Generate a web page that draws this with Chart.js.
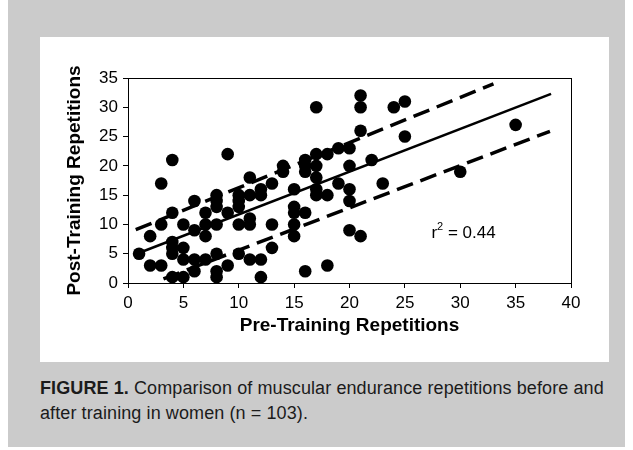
<!DOCTYPE html>
<html>
<head>
<meta charset="utf-8">
<script src="https://cdn.jsdelivr.net/npm/chart.js@4.4.0/dist/chart.umd.min.js"></script>
<style>
  body { margin: 0; background: #fff; width: 633px; height: 450px; position: relative; overflow: hidden; font-family: "Liberation Sans", Arial, sans-serif; }
  #frame { position: absolute; left: 8px; top: 0; width: 617px; height: 447px; background: #cbcbcb; }
  #panel { position: absolute; left: 40px; top: 37px; width: 569px; height: 325px; background: #fff; }
  #caption { position: absolute; left: 40px; top: 376px; font-size: 18px; line-height: 25px; color: #1b1b1b; white-space: nowrap; letter-spacing: 0.1px; }
</style>
</head>
<body>
<div id="frame"></div>
<div id="panel"><canvas id="chart" width="569" height="325"></canvas></div>
<div id="caption"><b>FIGURE 1.</b> Comparison of muscular endurance repetitions before and<br>after training in women (n = 103).</div>
<script>
// pre / post training repetitions
const preReps = [1,2,2,3,3,3,4,4,4,4,4,4,5,5,5,5,6,6,6,6,7,7,7,7,8,8,8,8,8,8,8,9,9,9,10,10,10,10,10,11,11,11,11,11,12,12,12,12,13,13,13,14,14,15,15,15,15,15,16,16,16,16,16,17,17,17,17,17,17,18,18,18,19,19,20,20,20,20,20,21,21,21,21,22,23,24,25,25,30,35];
const postReps = [5,8,3,3,10,17,21,12,7,6,5,1,10,6,4,1,14,9,4,2,12,10,8,4,15,14,13,10,5,2,1,22,12,3,15,14,13,10,5,18,15,11,10,4,16,15,4,1,17,10,6,20,19,16,13,12,10,8,21,20,19,12,2,30,22,20,18,16,15,22,15,3,23,17,23,20,16,14,9,32,30,26,8,21,17,30,31,25,19,27];

// regression line and the two dashed bands (end points)
const fitX = [0.8, 38.2];
const fitY = [5.0, 32.3];
const upperX = [0.7, 33.0];
const upperY = [9.1, 34.0];
const lowerX = [3.2, 38.1];
const lowerY = [0.7, 25.9];

const xTicks = [0, 5, 10, 15, 20, 25, 30, 35, 40];
const yTicks = [0, 5, 10, 15, 20, 25, 30, 35];
const rSquared = "0.44";

function pairs(xs, ys) {
  return xs.map((x, i) => ({ x: x, y: ys[i] }));
}

Chart.defaults.font.family = '"Liberation Sans", Arial, sans-serif';
Chart.defaults.color = "#000";

const frame = {
  id: "frame",
  afterDraw(chart) {
    const a = chart.chartArea;
    const ctx = chart.ctx;
    ctx.save();
    ctx.strokeStyle = "#000";
    ctx.lineWidth = 1;
    ctx.strokeRect(a.left + 0.5, a.top + 0.5, a.right - a.left, a.bottom - a.top);
    // r^2 note
    const x = chart.scales.x.getPixelForValue(27.4);
    const y = chart.scales.y.getPixelForValue(8.5);
    ctx.fillStyle = "#000";
    ctx.textBaseline = "middle";
    ctx.font = '17px "Liberation Sans", Arial, sans-serif';
    ctx.fillText("r", x, y);
    let w = ctx.measureText("r").width;
    ctx.font = '11px "Liberation Sans", Arial, sans-serif';
    ctx.fillText("2", x + w, y - 6);
    w += ctx.measureText("2").width;
    ctx.font = '17px "Liberation Sans", Arial, sans-serif';
    ctx.fillText(" = " + rSquared, x + w, y);
    ctx.restore();
  }
};

new Chart(document.getElementById("chart"), {
  type: "scatter",
  data: {
    datasets: [
      {
        data: pairs(preReps, postReps),
        backgroundColor: "#000",
        borderWidth: 0,
        pointRadius: 6.3
      },
      {
        data: pairs(fitX, fitY),
        showLine: true,
        borderColor: "#000",
        borderWidth: 2.5,
        pointRadius: 0
      },
      {
        data: pairs(upperX, upperY),
        showLine: true,
        borderColor: "#000",
        borderWidth: 3.5,
        borderDash: [17, 8],
        pointRadius: 0
      },
      {
        data: pairs(lowerX, lowerY),
        showLine: true,
        borderColor: "#000",
        borderWidth: 3.5,
        borderDash: [17, 8],
        pointRadius: 0
      }
    ]
  },
  options: {
    responsive: false,
    animation: false,
    devicePixelRatio: 1,
    layout: { padding: { left: 0, top: 41, right: 38, bottom: 0 } },
    plugins: { legend: { display: false }, tooltip: { enabled: false } },
    scales: {
      x: {
        min: 0, max: 40,
        afterBuildTicks: s => { s.ticks = xTicks.map(v => ({ value: v })); },
        afterFit: s => { s.height = 79; },
        ticks: { font: { size: 17 }, padding: 5, color: "#000" },
        grid: { drawOnChartArea: false, drawTicks: true, tickLength: 5, color: "#000" },
        border: { color: "#000", width: 1 },
        title: { display: true, text: "Pre-Training Repetitions", font: { size: 19, weight: "bold" }, color: "#000", padding: { top: 0, bottom: 25 } }
      },
      y: {
        min: 0, max: 35,
        afterBuildTicks: s => { s.ticks = yTicks.map(v => ({ value: v })); },
        afterFit: s => { s.width = 88; },
        ticks: { font: { size: 17 }, padding: 5, color: "#000" },
        grid: { drawOnChartArea: false, drawTicks: true, tickLength: 5, color: "#000" },
        border: { color: "#000", width: 1 },
        title: { display: true, text: "Post-Training Repetitions", font: { size: 19, weight: "bold" }, color: "#000", padding: { top: 23, bottom: 0 } }
      }
    }
  },
  plugins: [frame]
});
</script>
</body>
</html>
